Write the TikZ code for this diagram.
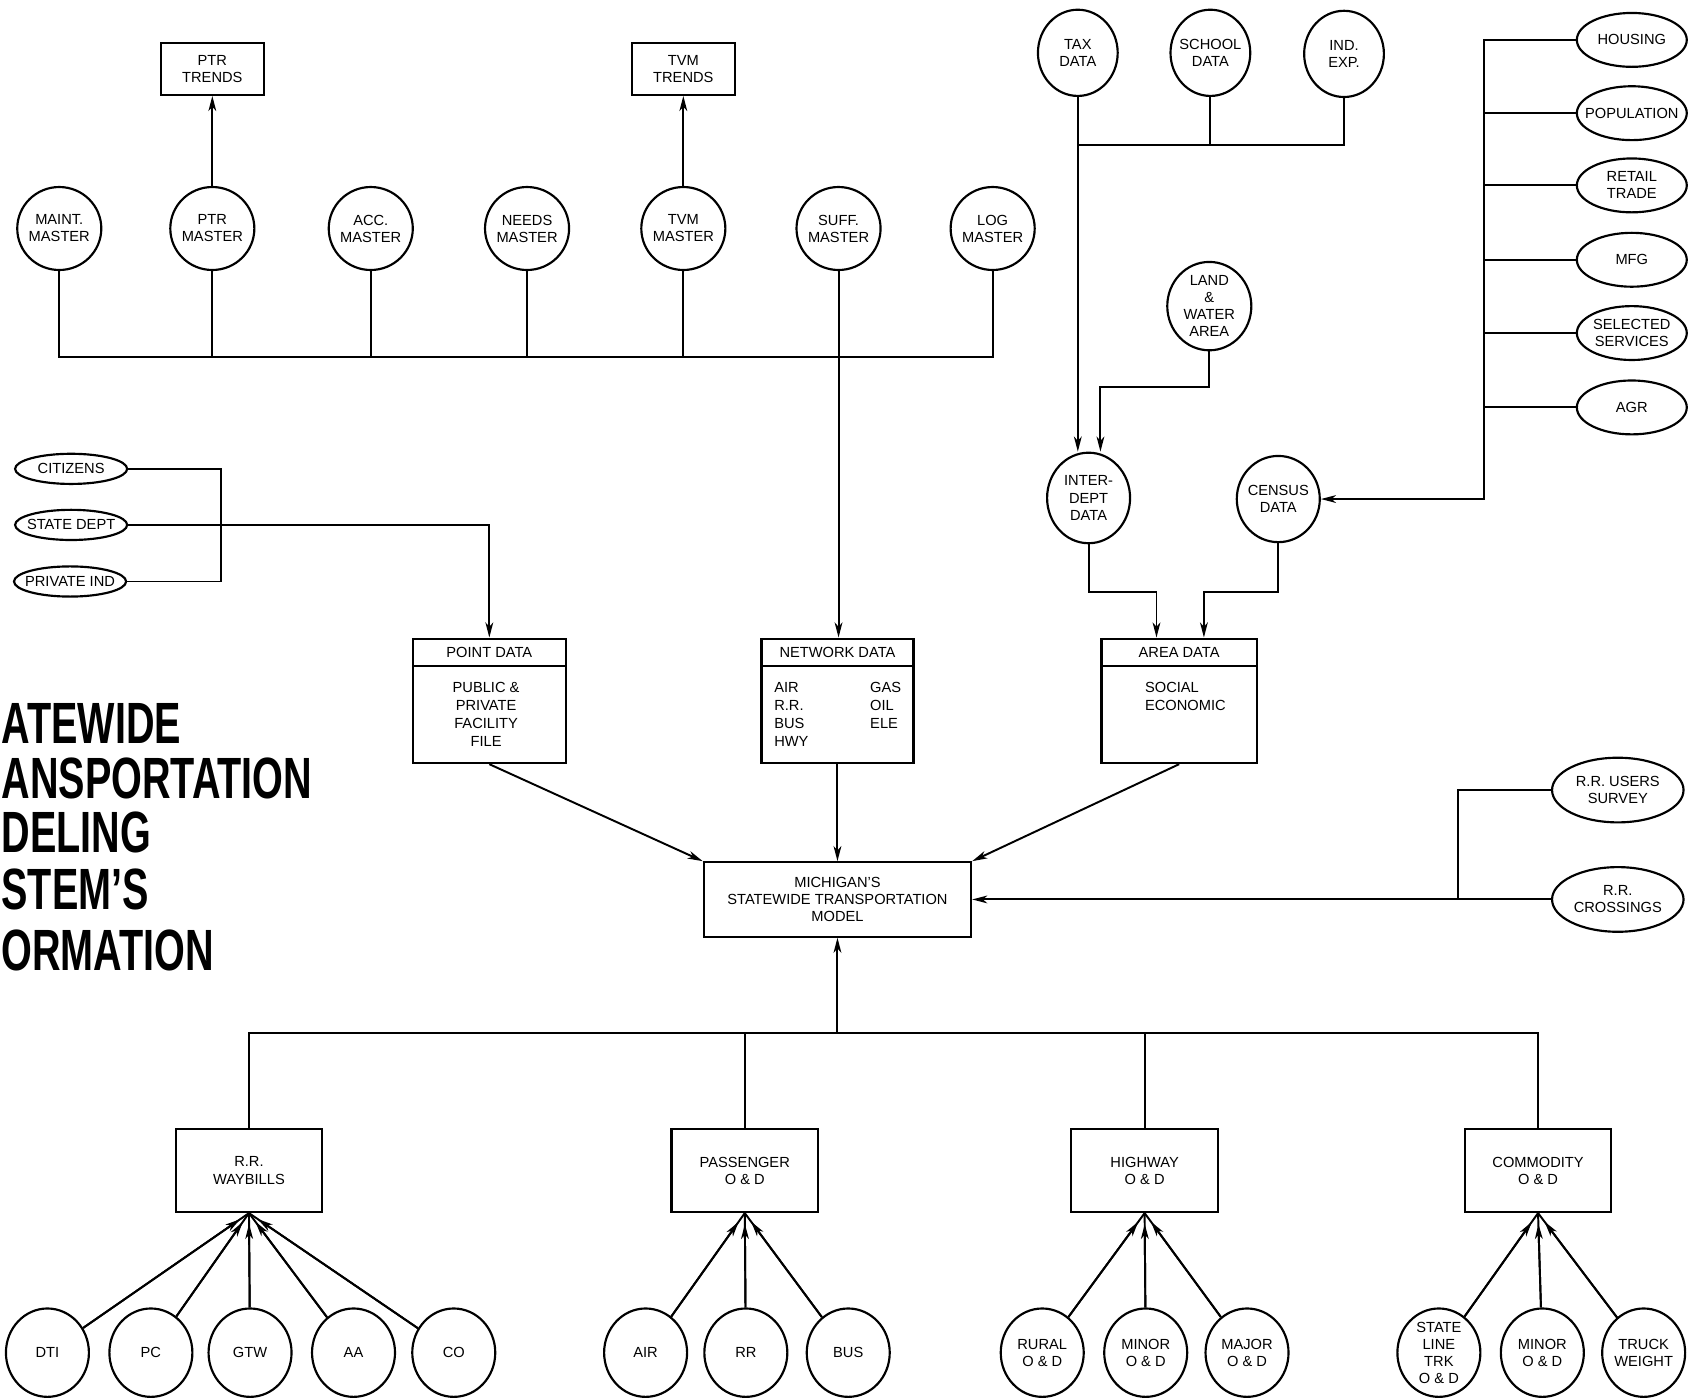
\documentclass[tikz,border=0pt]{standalone}
\usepackage{fontspec}
\setmainfont{Liberation Sans}
\usepackage{graphicx}
\usetikzlibrary{shapes.geometric,arrows.meta,calc}

\begin{document}
\begin{tikzpicture}[x=0.5pt,y=-0.5pt,
  txt/.style={font=\fontsize{6.8}{7.9}\selectfont, align=center},
  rnd/.style={draw, ellipse, txt, line width=1pt, inner xsep=-10pt, inner ysep=-4pt},
  boxn/.style={draw, rectangle, txt, line width=1pt, inner sep=0pt},
  link/.style={line width=0.9pt},
  arr/.style={link, -{Stealth[length=7pt,width=3.6pt,inset=2pt]}},
  master/.style={rnd, minimum width=39pt, minimum height=38.5pt},
  srcdata/.style={rnd, minimum width=37pt, minimum height=40pt},
  census/.style={rnd, minimum width=51pt, minimum height=25pt},
  origin/.style={rnd, minimum width=52pt, minimum height=14pt},
  rrsrc/.style={rnd, minimum width=61pt, minimum height=30pt},
  leaf/.style={rnd, minimum width=38.5pt, minimum height=41pt},
  trend/.style={boxn, minimum width=48pt, minimum height=24pt},
  datafile/.style={boxn, minimum height=57.75pt},
  datahead/.style={boxn, minimum height=12.6pt, anchor=north},
  body/.style={font=\fontsize{6.8}{8.25}\selectfont, inner sep=0pt},
  survey/.style={boxn, minimum width=68pt, minimum height=38.5pt},
  headline/.style={anchor=base west, inner sep=0pt, font=\fontsize{27}{27}\selectfont\bfseries}
]
\fill[white] (0,0) rectangle (1568,1298);
\useasboundingbox (0,0) rectangle (1568,1298);
\clip (0,0) rectangle (1568,1298);

% ---------- master files row ----------
\node[master] (maint) at (55,212) {MAINT.\\MASTER};
\node[master] (ptrm)  at (197,212) {PTR\\MASTER};
\node[master] (acc)   at (344,212) {ACC.\\MASTER};
\node[master] (needs) at (489,212) {NEEDS\\MASTER};
\node[master] (tvmm)  at (634,212) {TVM\\MASTER};
\node[master] (suff)  at (778,212) {SUFF.\\MASTER};
\node[master] (logm)  at (921,212) {LOG\\MASTER};

\node[trend] (ptrt) at (197,64) {PTR\\TRENDS};
\node[trend] (tvmt) at (634,64) {TVM\\TRENDS};
\draw[arr] (ptrm.north) -- (ptrt.south);
\draw[arr] (tvmm.north) -- (tvmt.south);

\coordinate (mbus) at (0,331);
\draw[link] (maint.south) |- (logm.south |- mbus) -- (logm.south);
\foreach \m in {ptrm,acc,needs,tvmm}
  \draw[link] (\m.south) -- (\m.south |- mbus);

% ---------- data boxes ----------
\node[datafile, minimum width=71pt] (pointbox) at (454,650.25) {};
\node[datahead, minimum width=71pt] (pointhdr) at (pointbox.north) {POINT DATA};
\node[body, align=center, anchor=north] (pointtxt) at (451,633) {PUBLIC \&\\PRIVATE\\FACILITY\\FILE};

\node[datafile, minimum width=70.5pt] (netbox) at (777,650.25) {};
\node[datahead, minimum width=70.5pt] (nethdr) at (netbox.north) {NETWORK DATA};
\node[body, align=left, anchor=north west] (netleft) at (718,633) {AIR\\R.R.\\BUS\\HWY};
\node[body, align=left, anchor=north west] (netright) at (807,633) {GAS\\OIL\\ELE};

\node[datafile, minimum width=72pt] (areabox) at (1094,650.25) {};
\node[datahead, minimum width=72pt] (areahdr) at (areabox.north) {AREA DATA};
\node[body, align=left, anchor=north west] (areatxt) at (1062,633) {SOCIAL\\ECONOMIC};

\draw[arr] (suff.south) -- (suff.south |- nethdr.north);

% ---------- tax / school / industry ----------
\node[srcdata] (tax)    at (1000,49) {TAX\\DATA};
\node[srcdata] (school) at (1123,49) {SCHOOL\\DATA};
\node[srcdata] (indexp) at (1247,50) {IND.\\EXP.};
\node[rnd, minimum width=39pt, minimum height=41pt] (land) at (1122,284) {LAND\\\&\\WATER\\AREA};
\node[rnd, minimum width=38.5pt, minimum height=42pt] (inter) at (1010,462) {INTER-\\DEPT\\DATA};
\node[rnd, minimum width=38.5pt, minimum height=40pt] (census) at (1186,463) {CENSUS\\DATA};

\coordinate (tbar) at (0,134.6);
\draw[link] (indexp.south) |- (tax.south |- tbar);
\draw[link] (school.south) -- (school.south |- tbar);
\draw[arr] (tax.south) -- (tax.south |- inter.north);
\coordinate (lbend) at (1021,359);
\draw[arr] (land.south) |- (lbend) -- (lbend |- inter.north);

% ---------- census inputs ----------
\node[census] (housing)  at (1514,37)  {HOUSING};
\node[census] (popul)    at (1514,105) {POPULATION};
\node[census] (retail)   at (1514,172) {RETAIL\\TRADE};
\node[census] (mfg)      at (1514,241) {MFG};
\node[census] (services) at (1514,309) {SELECTED\\SERVICES};
\node[census] (agr)      at (1514,378) {AGR};

\coordinate (rbar) at (1377,0);
\draw[arr] (housing.west) -| (rbar |- census.east) -- (census.east);
\foreach \c in {popul,retail,mfg,services,agr}
  \draw[link] (\c.west) -- (\c.west -| rbar);

% ---------- area data inputs ----------
\coordinate (ia) at (1073,549);
\coordinate (ca) at (1117,549);
\draw[arr] (inter.south) |- (ia) -- (ia |- areahdr.north);
\draw[arr] (census.south) |- (ca) -- (ca |- areahdr.north);

% ---------- point data inputs ----------
\node[origin] (cit)       at (66,435)   {CITIZENS};
\node[origin] (statedept) at (66,487)   {STATE DEPT};
\node[origin] (privind)   at (65,539.5) {PRIVATE IND};
\coordinate (lbar) at (205,0);
\draw[link] (cit.east) -| (lbar |- privind.east) -- (privind.east);
\draw[arr] (statedept.east) -| (pointhdr.north);

% ---------- model ----------
\node[boxn, minimum width=124pt, minimum height=34.5pt, font=\fontsize{6.8}{8}\selectfont] (model) at (777,834.5)
  {MICHIGAN'S\\STATEWIDE TRANSPORTATION\\MODEL};
\draw[arr] (pointbox.south) -- (model.north west);
\draw[arr] (netbox.south) -- (model.north);
\draw[arr] (areabox.south) -- (model.north east);

\node[rrsrc] (users) at (1501,733)   {R.R. USERS\\SURVEY};
\node[rrsrc] (cross) at (1501,834.5) {R.R.\\CROSSINGS};
\coordinate (rj) at (1353,834.5);
\draw[link] (users.west) -| (rj);
\draw[arr] (cross.west) -- (cross.west -| model.east);

% ---------- surveys ----------
\node[survey] (rrw)  at (231,1086)  {R.R.\\WAYBILLS};
\node[survey] (pass) at (691,1086)  {PASSENGER\\O \& D};
\node[survey] (hw)   at (1062,1086) {HIGHWAY\\O \& D};
\node[survey] (com)  at (1427,1086) {COMMODITY\\O \& D};

\coordinate (hub) at (777,958);
\draw[arr] (hub) -- (model.south);
\draw[link] (rrw.north) |- (com.north |- hub) -- (com.north);
\draw[link] (pass.north) -- (pass.north |- hub);
\draw[link] (hw.north) -- (hw.north |- hub);

\node[leaf] (dti)    at (44,1255)   {DTI};
\node[leaf] (pc)     at (140,1255)  {PC};
\node[leaf] (gtw)    at (232,1255)  {GTW};
\node[leaf] (aa)     at (328,1255)  {AA};
\node[leaf] (co)     at (421,1255)  {CO};
\node[leaf] (air)    at (599,1255)  {AIR};
\node[leaf] (rr)     at (692,1255)  {RR};
\node[leaf] (bus)    at (787,1255)  {BUS};
\node[leaf] (rural)  at (967,1255)  {RURAL\\O \& D};
\node[leaf] (minora) at (1063,1255) {MINOR\\O \& D};
\node[leaf] (major)  at (1157,1255) {MAJOR\\O \& D};
\node[leaf] (stl)    at (1335,1255) {STATE\\LINE\\TRK\\O \& D};
\node[leaf] (minorb) at (1431,1255) {MINOR\\O \& D};
\node[leaf] (truck)  at (1525,1255) {TRUCK\\WEIGHT};

\foreach \src/\dst in {dti/rrw,pc/rrw,gtw/rrw,aa/rrw,co/rrw,
                       air/pass,rr/pass,bus/pass,
                       rural/hw,minora/hw,major/hw,
                       stl/com,minorb/com,truck/com}{
  \draw[link] (\src) -- (\dst.south);
  \draw[arr, shorten >=5pt] (\src) -- (\dst.south);
}

% ---------- heading ----------
\node[headline] (h1) at (1,689.6) {\scalebox{0.68}[1]{ATEWIDE}};
\node[headline] (h2) at (1,741)   {\scalebox{0.68}[1]{ANSPORTATION}};
\node[headline] (h3) at (1,790.6) {\scalebox{0.68}[1]{DELING}};
\node[headline] (h4) at (1,843.5) {\scalebox{0.68}[1]{STEM'S}};
\node[headline] (h5) at (1,900)   {\scalebox{0.68}[1]{ORMATION}};
\end{tikzpicture}
\end{document}
